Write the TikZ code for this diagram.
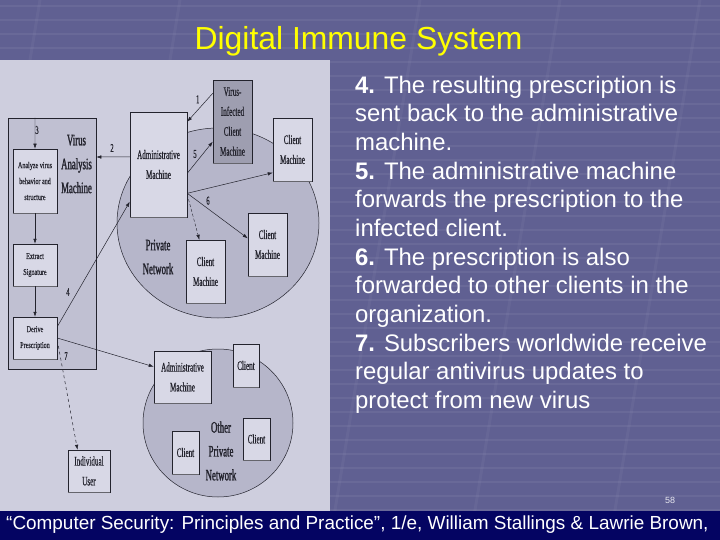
\documentclass[tikz,border=0pt]{standalone}
\usepackage{fontspec}
\setmainfont{Liberation Sans}
\newfontfamily\figfont[FakeStretch=0.55,FakeBold=0.6]{Liberation Serif}
\newfontfamily\figbold[FakeStretch=0.55,FakeBold=1.4]{Liberation Serif}
\newfontfamily\figsmall[FakeStretch=0.68,FakeBold=0.4]{Liberation Serif}
\usetikzlibrary{arrows.meta}
\definecolor{slidebg}{RGB}{96,96,146}
\definecolor{navybar}{RGB}{4,4,98}
\definecolor{panel}{RGB}{206,206,222}
\definecolor{vambg}{RGB}{192,192,210}
\definecolor{netbg}{RGB}{182,182,202}
\definecolor{boxbg}{RGB}{216,216,230}
\definecolor{infbg}{RGB}{158,158,176}
\definecolor{ink}{RGB}{35,35,45}
\definecolor{titleyellow}{RGB}{255,255,0}
\tikzset{
    sz/.style 2 args={minimum width=#1bp,minimum height=#2bp},
    mbox/.style={draw=ink,line width=0.5pt,fill=boxbg,inner sep=0pt,align=center,
        text=ink,font=\figfont\fontsize{13}{20}\selectfont},
    sbox/.style={mbox,font=\figsmall\fontsize{9}{16}\selectfont},
    lbl/.style={font=\figbold\fontsize{16}{24}\selectfont,align=center,text=ink},
    num/.style={font=\figfont\fontsize{12}{12}\selectfont,text=ink,inner sep=0pt},
    arr/.style={draw=ink,line width=0.5pt,-{Latex[length=5bp,width=3.5bp]}}
}

\begin{document}
\begin{tikzpicture}[x=1bp,y=-1bp]
    \useasboundingbox (0,0) rectangle (720,540);
    \clip (0,0) rectangle (720,540);
    \fill[slidebg] (0,0) rectangle (720,540);
    \foreach \y in {6,20,...,510}
        \draw[white,opacity=0.06,line width=2bp] (0,\y) -- (720,\y);
    \foreach \x in {40,180,420,560,700}
        \draw[white,opacity=0.04,line width=3bp] (\x,0) -- (\x-90,540);
    \fill[navybar] (0,511) rectangle (720,540);
    \fill[panel] (0,60) rectangle (330,511);

    \node[font=\fontsize{32}{32}\selectfont,text=titleyellow,anchor=base] (title) at (358.5,50) {Digital Immune System};

    \draw[ink,line width=0.5pt,fill=netbg] (218,223) ellipse [x radius=101bp,y radius=95bp];
    \draw[ink,line width=0.5pt,fill=netbg] (218,423) ellipse [x radius=75bp,y radius=74bp];

    \node[mbox,fill=vambg,sz={88}{251}] (vam) at (52,243.5) {};
    \node[lbl] (vamlbl) at (76.5,164) {Virus\\Analysis\\Machine};
    \node[sbox,sz={44}{64}] (analyze) at (35,181) {Analyze virus\\behavior and\\structure};
    \node[sbox,sz={44}{42}] (extract) at (35,265) {Extract\\Signature};
    \node[sbox,sz={44}{42}] (derive) at (35,338) {Derive\\Prescription};
    \node[mbox,sz={57}{105}] (admin) at (158.5,164.5) {Administrative\\Machine};
    \node[mbox,fill=infbg,sz={39}{83}] (infected) at (232.5,121.5) {Virus-\\Infected\\Client\\Machine};
    \node[mbox,sz={39}{63}] (client1) at (292.5,149.5) {Client\\Machine};
    \node[mbox,sz={39}{63}] (client2) at (267.5,244.5) {Client\\Machine};
    \node[mbox,sz={39}{63}] (client3) at (205.5,271.5) {Client\\Machine};
    \node[lbl] (privlbl) at (158,257) {Private\\Network};
    \node[mbox,sz={42}{42}] (user) at (89,471) {Individual\\User};
    \node[mbox,sz={57}{52}] (admin2) at (182.5,377) {Administrative\\Machine};
    \node[mbox,sz={26}{43}] (oclient1) at (246,365.5) {Client};
    \node[mbox,sz={27}{42}] (oclient2) at (256.5,439) {Client};
    \node[mbox,sz={27}{43}] (oclient3) at (185.5,452.5) {Client};
    \node[lbl] (otherlbl) at (221,451) {Other\\Private\\Network};
    \foreach \n in {analyze,extract,derive,admin,infected,client1,client2,client3,user,admin2,oclient1,oclient2,oclient3}
        \draw[ink!70,line width=1.5pt] (\n.south west) -- (\n.south east);

    \draw[arr] ([yshift=28.2bp]infected.west) -- ([yshift=42.8bp]admin.east);
    \draw[arr] ([yshift=7.5bp]admin.west) -- ([yshift=86.5bp]vam.east);
    \draw[arr] ([xshift=-17bp]vam.north) -- (analyze.north);
    \draw[arr] (analyze.south) -- (extract.north);
    \draw[arr] (extract.south) -- (derive.north);
    \draw[arr] ([yshift=11.3bp]derive.east) -- ([yshift=-37.2bp]admin.west);
    \draw[arr] ([yshift=-8.8bp]admin.east) -- ([yshift=-20.2bp]infected.west);
    \draw[arr] ([yshift=-28.8bp]admin.east) -- ([yshift=-23.2bp]client1.west);
    \draw[arr] ([yshift=-28.8bp]admin.east) -- ([yshift=6.2bp]client2.west);
    \draw[arr,densely dashed,line width=0.4pt] ([yshift=-30bp]admin.east) -- ([xshift=-6.2bp]client3.north);
    \draw[arr] (derive.east) -- ([yshift=10.3bp]admin2.west);
    \draw[arr,dashed] ([yshift=-2bp]derive.east) -- ([xshift=-11.5bp]user.north);
    \node[num] (n1) at (197.7,99.3) {1};
    \node[num] (n2) at (112,148) {2};
    \node[num] (n3) at (37,130) {3};
    \node[num] (n4) at (68,292) {4};
    \node[num] (n5) at (195,154) {5};
    \node[num] (n6) at (208,200.7) {6};
    \node[num] (n7) at (66,356) {7};

    \node[anchor=north west,align=left,text=white,inner sep=0pt,font=\fontsize{24}{28.8}\selectfont] (steps) at (355,75.5)
        {\textbf{4.} The resulting prescription is\\
         sent back to the administrative\\
         machine.\\
         \textbf{5.} The administrative machine\\
         forwards the prescription to the\\
         infected client.\\
         \textbf{6.} The prescription is also\\
         forwarded to other clients in the\\
         organization.\\
         \textbf{7.} Subscribers worldwide receive\\
         regular antivirus updates to\\
         protect from new virus};
    \node[text=white!85!slidebg,font=\fontsize{9}{9}\selectfont] (pageno) at (670,500) {58};
    \node[anchor=base west,text=white,inner sep=0pt,font=\fontsize{19}{19}\selectfont] (cite) at (6,529)
        {“Computer Security: Principles and Practice”, 1/e, William Stallings \& Lawrie Brown,};
\end{tikzpicture}
\end{document}
